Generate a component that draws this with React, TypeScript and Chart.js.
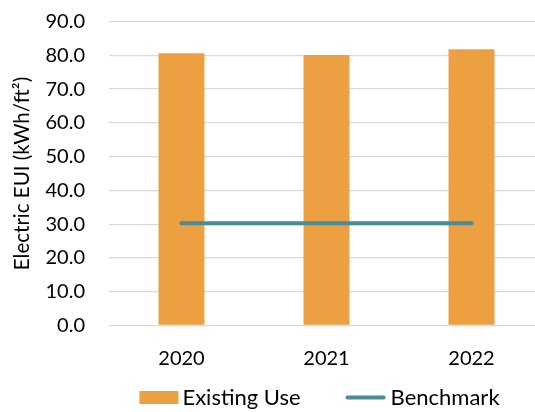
import React, { useEffect, useRef } from "react";
import { Chart, registerables } from "chart.js";

Chart.register(...registerables);

const categories = ["2020", "2021", "2022"];
const existingUse = [80.6, 80.1, 81.8];
const benchmark = [30.3, 30.3, 30.3];
const seriesLabels = ["Existing Use", "Benchmark"];
const yTitle = "Electric EUI (kWh/ft²)";

const BAR_COLOR = "#EDA042";
const LINE_COLOR = "#4A8B98";
const FONT = "Lato, 'DejaVu Sans', sans-serif";

const legendPlugin = {
  id: "customLegend",
  afterDraw(chart: any) {
    const ctx = chart.ctx as CanvasRenderingContext2D;
    const area = chart.chartArea;
    ctx.save();
    ctx.font = `22px ${FONT}`;
    ctx.textBaseline = "middle";
    ctx.textAlign = "left";
    const ds = chart.data.datasets;
    const w1 = ctx.measureText(ds[0].label).width;
    const w2 = ctx.measureText(ds[1].label).width;
    const boxW = 39, boxH = 13, gapText = 4, gapItems = 45, lineW = 40;
    const total = boxW + gapText + w1 + gapItems + lineW + gapText + 1 + w2;
    const cx = (area.left + area.right) / 2 - 7;
    const cy = chart.height - 14.5;
    let x = cx - total / 2;
    ctx.fillStyle = ds[0].backgroundColor;
    ctx.fillRect(x, cy - boxH / 2, boxW, boxH);
    x += boxW + gapText;
    ctx.fillStyle = "#000";
    ctx.fillText(ds[0].label, x, cy);
    x += w1 + gapItems;
    ctx.strokeStyle = ds[1].borderColor;
    ctx.lineWidth = 4;
    ctx.lineCap = "round";
    ctx.beginPath();
    ctx.moveTo(x + 2, cy);
    ctx.lineTo(x + lineW - 2, cy);
    ctx.stroke();
    x += lineW + gapText + 1;
    ctx.fillText(ds[1].label, x, cy);
    ctx.restore();
  },
};

export default function App() {
  const ref = useRef<HTMLCanvasElement | null>(null);

  useEffect(() => {
    if (!ref.current) return;
    const chart = new Chart(ref.current, {
      type: "bar",
      data: {
        labels: categories,
        datasets: [
          {
            type: "bar",
            label: seriesLabels[0],
            data: existingUse,
            backgroundColor: BAR_COLOR,
            barPercentage: 0.317,
            categoryPercentage: 1,
            order: 2,
          },
          {
            type: "line",
            label: seriesLabels[1],
            data: benchmark,
            borderColor: LINE_COLOR,
            backgroundColor: LINE_COLOR,
            borderWidth: 4,
            borderCapStyle: "round",
            pointRadius: 0,
            pointHoverRadius: 0,
            fill: false,
            order: 1,
          },
        ],
      },
      options: {
        responsive: false,
        animation: false,
        layout: { padding: { top: 21.5, left: 0, right: 0, bottom: 20.5 } },
        plugins: {
          legend: { display: false },
          tooltip: { enabled: false },
        },
        scales: {
          x: {
            grid: { display: false, drawTicks: false },
            border: { display: true, color: "#D9D9D9", width: 1 },
            ticks: {
              color: "#000",
              font: { family: FONT, size: 20 },
              padding: 21,
            },
          },
          y: {
            min: 0,
            max: 90,
            afterFit: (scale: any) => {
              scale.width = 109;
            },
            grid: {
              color: "#D9D9D9",
              lineWidth: 1.3,
              drawTicks: true,
              tickLength: 22,
              tickColor: "rgba(0,0,0,0)",
            },
            border: { display: false },
            ticks: {
              stepSize: 10,
              color: "#000",
              font: { family: FONT, size: 20 },
              padding: 2,
              callback: (v: any) => Number(v).toFixed(1),
            },
            title: {
              display: true,
              text: yTitle,
              color: "#000",
              font: { family: FONT, size: 20.5 },
              padding: { top: 10, bottom: 0 },
            },
          },
        },
      },
      plugins: [legendPlugin],
    });
    return () => chart.destroy();
  }, []);

  return (
    <div
      style={{
        position: "absolute",
        left: 0,
        top: 0,
        width: 535,
        height: 412,
        overflow: "hidden",
        background: "#fff",
      }}
    >
      <canvas ref={ref} width={544} height={412} style={{ display: "block" }} />
    </div>
  );
}
